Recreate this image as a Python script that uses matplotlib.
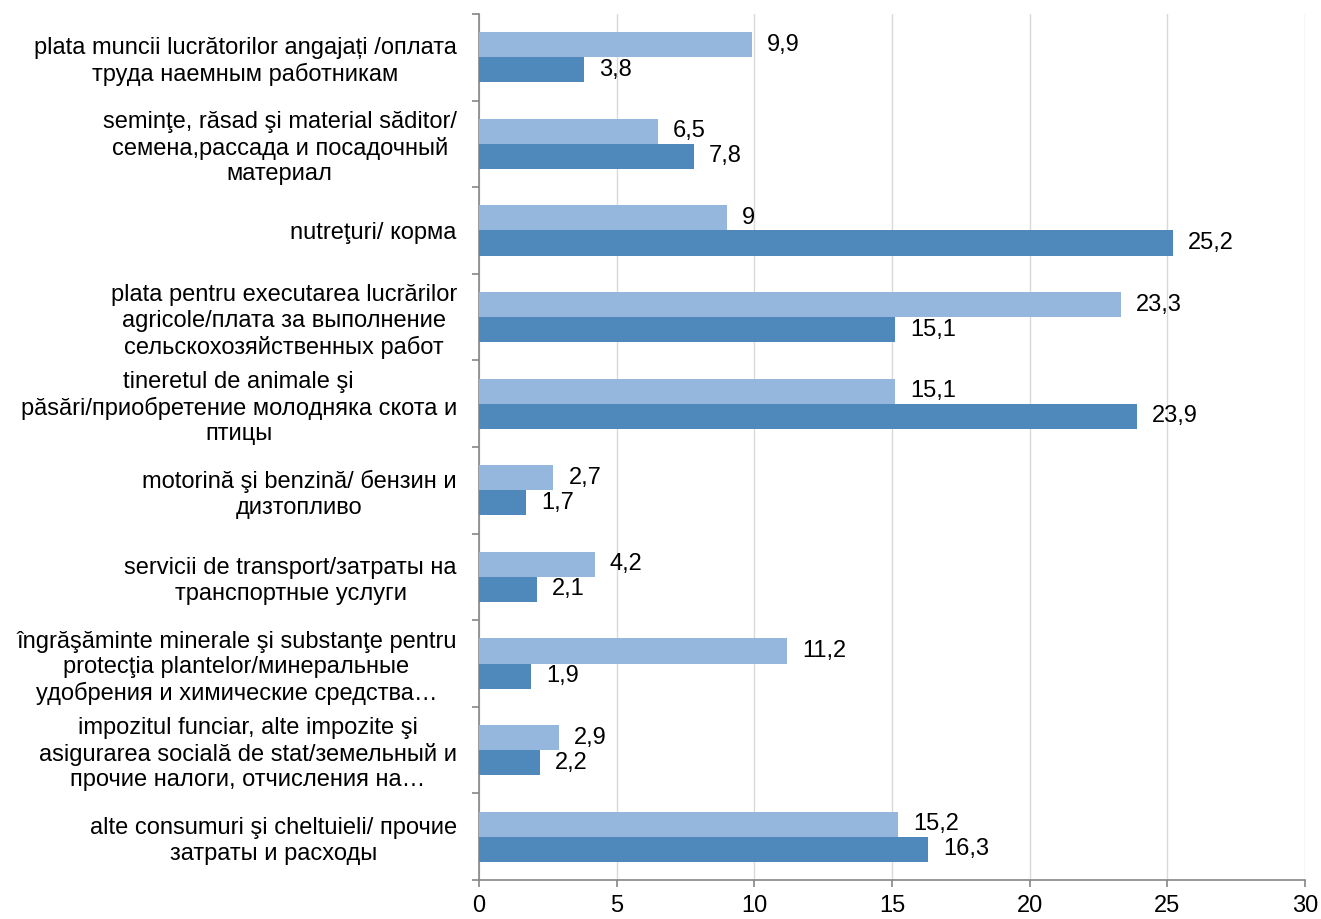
import matplotlib
matplotlib.use("Agg")
import matplotlib.pyplot as plt
import numpy as np

categories = [
    "plata muncii lucrătorilor angajați /оплата\nтруда наемным работникам",
    "seminţe, răsad şi material săditor/\nсемена,рассада и посадочный\nматериал",
    "nutreţuri/ корма",
    "plata pentru executarea lucrărilor\nagricole/плата за выполнение\nсельскохозяйственных работ",
    "tineretul de animale şi\npăsări/приобретение молодняка скота и\nптицы",
    "motorină şi benzină/ бензин и\nдизтопливо",
    "servicii de transport/затраты на\nтранспортные услуги",
    "îngrăşăminte minerale şi substanţe pentru\nprotecţia plantelor/минеральные\nудобрения и химические средства…",
    "impozitul funciar, alte impozite şi\nasigurarea socială de stat/земельный и\nпрочие налоги, отчисления на…",
    "alte consumuri şi cheltuieli/ прочие\nзатраты и расходы",
]
series_light = [9.9, 6.5, 9, 23.3, 15.1, 2.7, 4.2, 11.2, 2.9, 15.2]
series_dark = [3.8, 7.8, 25.2, 15.1, 23.9, 1.7, 2.1, 1.9, 2.2, 16.3]
xticks = [0, 5, 10, 15, 20, 25, 30]

plt.rcParams['font.family'] = ['Liberation Sans', 'DejaVu Sans']

fig = plt.figure(figsize=(13.21, 9.19), dpi=100)
ax = fig.add_axes([0.3626, 0.0424, 0.9879 - 0.3626, 0.9848 - 0.0424])

FS = 17
n = len(categories)
y = np.arange(n)
h = 0.289
light_c = '#95B7DE'
dark_c = '#4F89BC'
ax.barh(y - h / 2, series_light, height=h, color=light_c, zorder=3)
ax.barh(y + h / 2, series_dark, height=h, color=dark_c, zorder=3)

def fmt(v):
    if float(v).is_integer():
        return str(int(v))
    return str(v).replace('.', ',')

for yi, v in zip(y, series_light):
    ax.annotate(fmt(v), (v, yi - h / 2), xytext=(11, 0), textcoords='offset points',
                va='center', ha='left', fontsize=FS)
for yi, v in zip(y, series_dark):
    ax.annotate(fmt(v), (v, yi + h / 2), xytext=(11, 0), textcoords='offset points',
                va='center', ha='left', fontsize=FS)

ax.set_ylim(n - 0.5, -0.5)
ax.set_xlim(0, 30)
ax.set_xticks(xticks)
ax.set_xticklabels([str(t) for t in xticks], fontsize=FS)
ax.set_yticks(y)
ax.set_yticklabels(categories, fontsize=FS, multialignment='center', linespacing=1.2)
ax.set_yticks(np.arange(-0.5, n, 1.0), minor=True)
ax.tick_params(axis='y', which='major', length=0, pad=16)
ax.tick_params(axis='y', which='minor', length=5, color='#868686', width=1.2)
ax.tick_params(axis='x', which='major', length=5, color='#868686', width=1.2, pad=6)

for s in ['top', 'right']:
    ax.spines[s].set_visible(False)
for s in ['left', 'bottom']:
    ax.spines[s].set_color('#868686')
    ax.spines[s].set_linewidth(1.2)

ax.grid(axis='x', color='#D9D9D9', linewidth=1.0, zorder=0)
ax.set_axisbelow(True)

fig.savefig('out.png', dpi=100)
